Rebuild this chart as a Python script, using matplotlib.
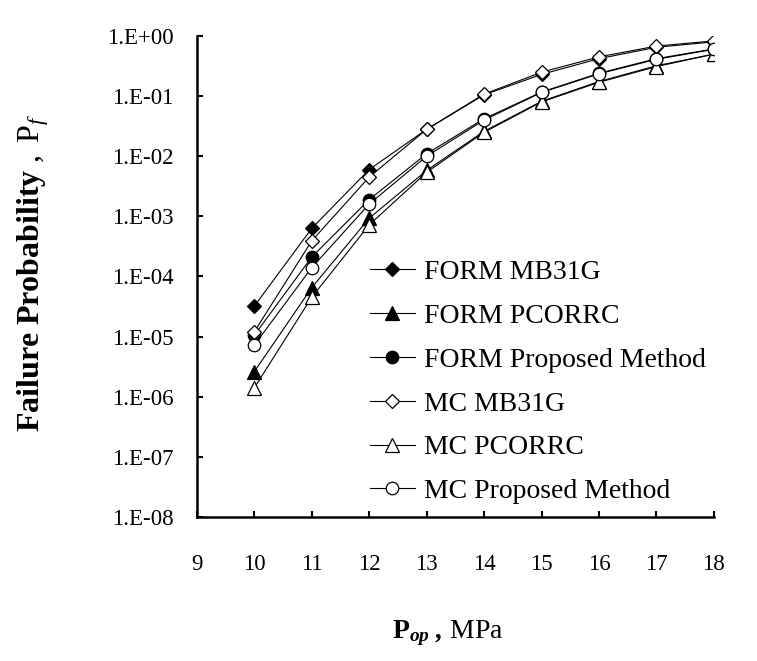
import math
import matplotlib
matplotlib.use("Agg")
import matplotlib.pyplot as plt
from matplotlib.ticker import FixedLocator, FuncFormatter, NullLocator

plt.rcParams["font.family"] = ["Liberation Serif", "DejaVu Serif"]
plt.rcParams["mathtext.fontset"] = "custom"
plt.rcParams["mathtext.rm"] = "Liberation Serif"
plt.rcParams["mathtext.it"] = "Liberation Serif:italic"
plt.rcParams["mathtext.bf"] = "Liberation Serif:bold"
plt.rcParams["mathtext.bfit"] = "Liberation Serif:italic:bold"

# operating pressure, MPa
pressure = [10, 11, 12, 13, 14, 15, 16, 17, 18]

# failure probabilities
form_mb31g = [3.2e-5, 6.3e-4, 6.0e-3, 2.8e-2, 1.05e-1, 2.3e-1, 4.2e-1, 6.5e-1, 8.0e-1]
form_pcorrc = [2.6e-6, 6.5e-5, 9.3e-4, 5.8e-3, 2.6e-2, 8.2e-2, 1.75e-1, 3.2e-1, 5.0e-1]
form_proposed = [1.05e-5, 2.1e-4, 1.9e-3, 1.1e-2, 4.2e-2, 1.17e-1, 2.4e-1, 4.2e-1, 6.1e-1]
mc_mb31g = [1.2e-5, 3.9e-4, 4.5e-3, 2.8e-2, 1.08e-1, 2.5e-1, 4.5e-1, 6.8e-1, 8.3e-1]
mc_pcorrc = [1.4e-6, 4.5e-5, 7.2e-4, 5.4e-3, 2.5e-2, 8.0e-2, 1.7e-1, 3.1e-1, 5.0e-1]
mc_proposed = [7.2e-6, 1.4e-4, 1.6e-3, 1.0e-2, 4.0e-2, 1.15e-1, 2.35e-1, 4.1e-1, 6.0e-1]

x_ticks = [9, 10, 11, 12, 13, 14, 15, 16, 17, 18]
y_ticks = [1e-8, 1e-7, 1e-6, 1e-5, 1e-4, 1e-3, 1e-2, 1e-1, 1e0]

series = [
    ("FORM MB31G", form_mb31g, "D", "black", 7),
    ("FORM PCORRC", form_pcorrc, "^", "black", 10),
    ("FORM Proposed Method", form_proposed, "o", "black", 9),
    ("MC MB31G", mc_mb31g, "D", "white", 7),
    ("MC PCORRC", mc_pcorrc, "^", "white", 10),
    ("MC Proposed Method", mc_proposed, "o", "white", 9),
]

fig = plt.figure(figsize=(7.57, 6.61), dpi=100)
ax = fig.add_axes([0.260, 0.218, 0.683, 0.7275])

for label, vals, mk, face, ms in series:
    ax.plot(pressure, vals, color="black", lw=0.8, marker=mk, ms=ms,
            markerfacecolor=face, markeredgecolor="black", markeredgewidth=0.9,
            label=label)

ax.set_yscale("log")
ax.set_xlim(9, 18)
ax.set_ylim(1e-8, 1)
ax.xaxis.set_major_locator(FixedLocator(x_ticks))
ax.yaxis.set_major_locator(FixedLocator(y_ticks))
ax.yaxis.set_minor_locator(NullLocator())


def sci_label(v, pos):
    exp = int(round(math.log10(v)))
    sign = "+" if exp >= 0 else "-"
    return f"1.E{sign}{abs(exp):02d}"


ax.yaxis.set_major_formatter(FuncFormatter(sci_label))

for side in ["top", "right"]:
    ax.spines[side].set_visible(False)
for side in ["left", "bottom"]:
    ax.spines[side].set_linewidth(1.8)

ax.tick_params(axis="both", direction="in", length=4, width=1.5, labelsize=16.5)
ax.tick_params(axis="x", pad=27)
ax.tick_params(axis="y", pad=17)

fig.text(0.044, 0.588, r"$\mathbf{Failure\ Probability}\ ,\ \mathrm{P}_{\mathit{f}}$",
         rotation=90, ha="center", va="center", fontsize=23)
fig.text(0.592, 0.042, r"$\mathbf{P}_{\mathbfit{op}}\ \mathbfit{,}\ \mathrm{MPa}$",
         ha="center", va="center", fontsize=20)

ax.legend(loc="upper left", bbox_to_anchor=(0.489, 0.607), bbox_transform=fig.transFigure,
          frameon=False, fontsize=20, borderpad=0, borderaxespad=0,
          handlelength=1.6, handletextpad=0.35, labelspacing=0.66)

fig.savefig("out.png", dpi=100)
